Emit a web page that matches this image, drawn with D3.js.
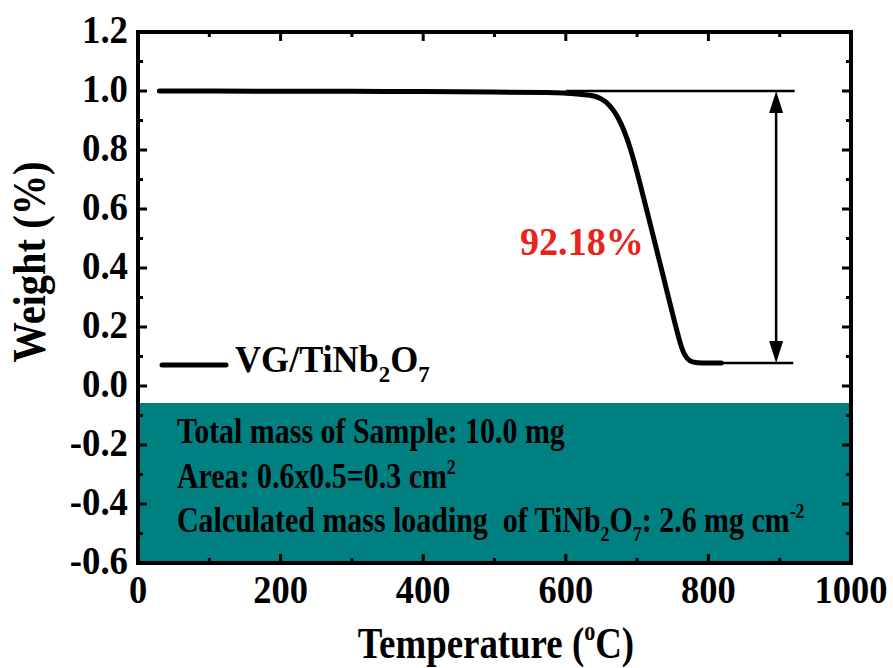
<!DOCTYPE html>
<html>
<head>
<script src="https://d3js.org/d3.v7.min.js"></script>
<style>
  body { margin: 0; background: #fff; }
  text { font-family: "Liberation Serif", "Times New Roman", serif; font-weight: bold; }
</style>
</head>
<body>
<svg width="893" height="668"></svg>
<script>
// TGA curve
var temps   = [30, 100, 200, 300, 400, 500, 580, 620, 634, 648, 662, 676, 690, 704, 718, 732, 746, 760, 766, 774, 784, 800, 818];
var weights = [1.0, 1.0, 0.999, 0.999, 0.998, 0.997, 0.995, 0.990, 0.986, 0.978, 0.953, 0.902, 0.815, 0.688, 0.553, 0.417, 0.281, 0.146, 0.105, 0.082, 0.078, 0.078, 0.078];
var xTicks = [0, 200, 400, 600, 800, 1000];
var yTicks = [-0.6, -0.4, -0.2, 0.0, 0.2, 0.4, 0.6, 0.8, 1.0, 1.2];
var topLevel = 1.0, bottomLevel = 0.078, arrowT = 895;
var lossLabel = "92.18%";
var boxLines = ["Total mass of Sample: 10.0 mg", "Area: 0.6x0.5=0.3 cm", "Calculated mass loading  of TiNb"];

var svg = d3.select("svg");
var pLeft = 138, pRight = 851, pTop = 32, pBottom = 563;

var x = d3.scaleLinear().domain([0, 1000]).range([pLeft, pRight]);
var y = d3.scaleLinear().domain([-0.6, 1.2]).range([pBottom, pTop]);

// condensed text helper (the original lettering is narrow)
function label(px, py, size, sx, rot) {
  var g = svg.append("g").attr("transform",
    "translate(" + px + "," + py + ")" + (rot ? " rotate(" + rot + ")" : "") + " scale(" + sx + ",1)");
  return g.append("text").attr("font-size", size).style("white-space", "pre");
}

// teal info box
svg.append("rect")
  .attr("x", x(0) + 2).attr("y", 403)
  .attr("width", x(1000) - x(0) - 4).attr("height", y(-0.6) - 403)
  .attr("fill", "#008080");

// ticks (inward)
var tk = svg.append("g").attr("stroke", "#000").attr("stroke-width", 3);
d3.range(0, 1001, 100).forEach(function(v) {
  var len = v % 200 === 0 ? 9 : 5;
  tk.append("line").attr("x1", x(v)).attr("x2", x(v)).attr("y1", pBottom).attr("y2", pBottom - len);
  tk.append("line").attr("x1", x(v)).attr("x2", x(v)).attr("y1", pTop).attr("y2", pTop + len);
});
d3.range(-6, 13, 1).forEach(function(i) {
  var v = i / 10, len = i % 2 === 0 ? 9 : 5;
  tk.append("line").attr("x1", pLeft).attr("x2", pLeft + len).attr("y1", y(v)).attr("y2", y(v));
  tk.append("line").attr("x1", pRight).attr("x2", pRight - len).attr("y1", y(v)).attr("y2", y(v));
});

// frame
svg.append("rect").attr("x", pLeft).attr("y", pTop)
  .attr("width", pRight - pLeft).attr("height", pBottom - pTop)
  .attr("fill", "none").attr("stroke", "#000").attr("stroke-width", 4);

// tick labels
xTicks.forEach(function(d) {
  label(x(d), 603, 41, 0.89).attr("text-anchor", "middle").text(d);
});
yTicks.forEach(function(d) {
  label(128, y(d) + 11, 40, 0.92).attr("text-anchor", "end").text(d.toFixed(1));
});

// axis titles
var xt = label(496, 658, 45, 0.82).attr("text-anchor", "middle");
xt.append("tspan").text("Temperature (");
xt.append("tspan").attr("font-size", 27).attr("dy", -18).text("o");
xt.append("tspan").attr("dy", 18).text("C)");

label(45, 262, 46, 0.88, -90).attr("text-anchor", "middle").text("Weight (%)");

// reference lines and arrow
var ref = svg.append("g").attr("stroke", "#000").attr("stroke-width", 2.5);
ref.append("line").attr("x1", x(600)).attr("x2", x(921)).attr("y1", y(topLevel)).attr("y2", y(topLevel));
ref.append("line").attr("x1", x(800)).attr("x2", x(919)).attr("y1", y(bottomLevel)).attr("y2", y(bottomLevel));
ref.append("line").attr("x1", x(arrowT)).attr("x2", x(arrowT))
  .attr("y1", y(topLevel) + 14).attr("y2", y(bottomLevel) - 14);
var ax = x(arrowT);
svg.append("path")
  .attr("d", "M" + ax + "," + y(topLevel) + "l-7,22h14z M" + ax + "," + y(bottomLevel) + "l-7,-22h14z")
  .attr("fill", "#000");

// curve
var line = d3.line().x(d => x(d[0])).y(d => y(d[1])).curve(d3.curveBasis);
svg.append("path")
  .datum(d3.zip(temps, weights))
  .attr("d", line)
  .attr("fill", "none").attr("stroke", "#000").attr("stroke-width", 5)
  .attr("stroke-linecap", "round");

// loss label
label(520, 255, 41, 0.93).attr("fill", "#e8231c").text(lossLabel);

// legend
svg.append("line").attr("x1", 162).attr("x2", 226).attr("y1", 365).attr("y2", 365)
  .attr("stroke", "#000").attr("stroke-width", 5).attr("stroke-linecap", "round");
var lg = label(235, 372, 38, 0.95);
lg.append("tspan").text("VG/TiNb");
lg.append("tspan").attr("font-size", 24).attr("dy", 10).text("2");
lg.append("tspan").attr("dy", -10).text("O");
lg.append("tspan").attr("font-size", 24).attr("dy", 10).text("7");

// box texts
label(177, 443, 35, 0.855).text(boxLines[0]);
var b2 = label(177, 488, 35, 0.855);
b2.append("tspan").text(boxLines[1]);
b2.append("tspan").attr("font-size", 21).attr("dy", -14).text("2");
var b3 = label(177, 532, 35, 0.855);
b3.append("tspan").text(boxLines[2]);
b3.append("tspan").attr("font-size", 21).attr("dy", 9).text("2");
b3.append("tspan").attr("dy", -9).text("O");
b3.append("tspan").attr("font-size", 21).attr("dy", 9).text("7");
b3.append("tspan").attr("dy", -9).text(": 2.6 mg cm");
b3.append("tspan").attr("font-size", 21).attr("dy", -14).text("-2");
</script>
</body>
</html>
